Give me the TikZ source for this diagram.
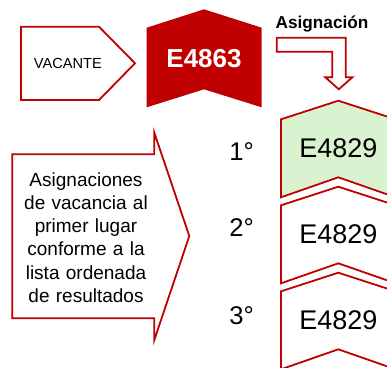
\documentclass[tikz,border=0pt]{standalone}
\usepackage{fontspec}
\setmainfont{Liberation Sans}
\definecolor{dred}{RGB}{192,0,0}
\definecolor{lgreen}{RGB}{217,242,208}
\tikzset{
  outl/.style={draw=dred, line width=1.8pt, line join=miter, fill=white},
  lbl/.style={inner sep=0pt, text=black},
}
\begin{document}
\begin{tikzpicture}[x=1pt,y=-1pt]
\useasboundingbox (0,0) rectangle (387,367);
\clip (0,0) rectangle (387,367);
% VACANTE pentagon
\draw[outl] (21,26.7) -- (99,26.7) -- (135,63.3) -- (99,100) -- (21,100) -- cycle;
\node[lbl, font=\fontsize{14.6}{16}\selectfont] (vac) at (67.8,63.3) {VACANTE};
% E4863 chevron
\fill[dred] (146.7,27.7) -- (204,9.3) -- (261.7,27.7) -- (261.7,107.3) -- (204,89.3) -- (146.7,107.3) -- cycle;
\node[lbl, text=white, font=\fontsize{26}{28}\selectfont\bfseries] (e4863) at (204,58.3) {E4863};
% Asignacion label and bent arrow
\node[lbl, anchor=base, font=\fontsize{17.2}{19}\selectfont\bfseries] (asig) at (322,28.3) {Asignación};
\draw[outl] (276.7,37.7) -- (345.7,37.7) -- (345.7,77.3) -- (352.3,77.3) -- (338.8,89.3) -- (325.3,77.3) -- (332.3,77.3) -- (332.3,51.7) -- (276.7,51.7) -- cycle;
% left big arrow
\draw[outl] (12.3,154.3) -- (154.3,154.3) -- (154.3,132.7) -- (189.3,236) -- (154.3,340) -- (154.3,318.3) -- (12.3,318.3) -- cycle;
\node[lbl, anchor=north, text width=140pt, align=center, font=\fontsize{19}{23.2}\selectfont] (desc) at (86,172.4) {Asignaciones\\de vacancia al\\primer lugar\\conforme a la\\lista ordenada\\de resultados};
% ranked chevrons
\foreach \t/\f/\n in {100.7/lgreen/1, 186.7/white/2, 272.7/white/3}{
  \draw[outl, fill=\f] (281,\t+18.6) -- (338.3,\t) -- (395.6,\t+18.6) -- (395.6,\t+96.6) -- (338.3,\t+76.6) -- (281,\t+96.6) -- cycle;
  \node[lbl, font=\fontsize{27}{29}\selectfont] (c\n) at (338.3,\t+47.3) {E4829};
}
\node[lbl, font=\fontsize{25.6}{27}\selectfont] (o1) at (241.7,151.7) {1°};
\node[lbl, font=\fontsize{25.6}{27}\selectfont] (o2) at (241.7,227.3) {2°};
\node[lbl, font=\fontsize{25.6}{27}\selectfont] (o3) at (241.7,315.7) {3°};
\end{tikzpicture}
\end{document}
